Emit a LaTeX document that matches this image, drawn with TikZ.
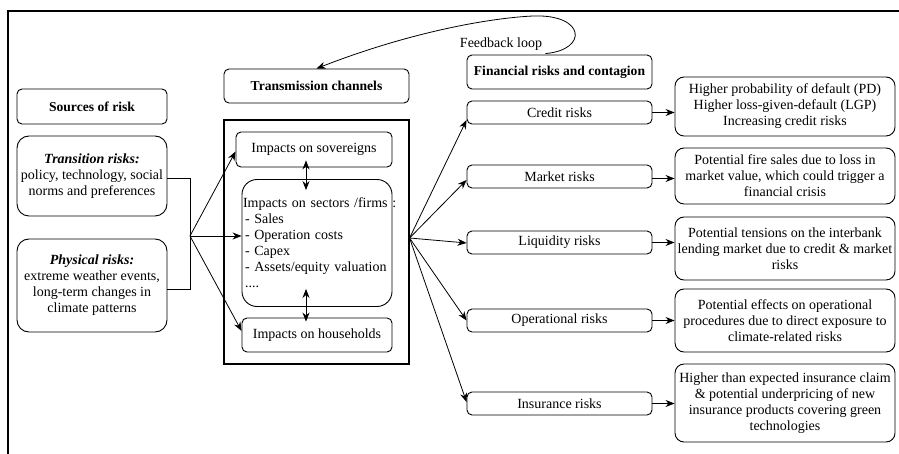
\documentclass[tikz,border=0pt]{standalone}
\usepackage{fontspec}
\setmainfont{Liberation Serif}
\usetikzlibrary{arrows.meta,calc}
\begin{document}
\begin{tikzpicture}[x=1pt,y=-1pt,
  every node/.style={font=\fontsize{14}{16}\selectfont},
  box/.style={draw,line width=0.9pt,rounded corners=5pt,inner sep=0pt,align=center},
  ttl/.style={box,font=\fontsize{13.6}{16}\selectfont\bfseries},
  arr/.style={line width=0.8pt,-{Stealth[length=9pt,width=7pt]}},
  darr/.style={line width=0.8pt,{Stealth[length=9pt,width=7pt]}-{Stealth[length=9pt,width=7pt]}},
  ln/.style={line width=0.9pt}]
\useasboundingbox (0,0) rectangle (899,454);
\draw[line width=1.1pt] (8,454) -- (8,11) -- (899,11);
% left column
\node[ttl,minimum width=150pt,minimum height=35pt] (src) at (92,106.5) {Sources of risk};
\node[box,rounded corners=12pt,minimum width=150pt,minimum height=80pt] (trans) at (92,176)
  {\textbf{\textit{Transition risks:}}\\policy, technology, social\\norms and preferences};
\node[box,rounded corners=12pt,minimum width=150pt,minimum height=93pt] (phys) at (92,285.5)
  {\textbf{\textit{Physical risks:}}\\extreme weather events,\\long-term changes in\\climate patterns};
% middle column
\node[ttl,minimum width=185pt,minimum height=34pt] (tc) at (316.5,86) {Transmission channels};
\node[draw,line width=1.1pt,minimum width=185pt,minimum height=244pt,inner sep=0pt] (big) at (316.5,242) {};
\node[box,minimum width=156pt,minimum height=35pt] (sov) at (314,149.5) {Impacts on sovereigns};
\node[box,rounded corners=15pt,minimum width=150pt,minimum height=127pt,align=left,text width=148pt,inner xsep=1pt] (sec) at (317,243)
  {\mbox{Impacts on sectors /firms :}\\
   \hspace*{2pt}- Sales\\
   \hspace*{2pt}- Operation costs\\
   \hspace*{2pt}- Capex\\
   \hspace*{2pt}- Assets/equity valuation\\
   \hspace*{2pt}....};
\node[box,minimum width=150pt,minimum height=34pt] (hh) at (317,335) {Impacts on households};
% financial risks column
\node[ttl,minimum width=185pt,minimum height=34pt] (frc) at (559.5,72) {Financial risks and contagion};
\node[box,minimum width=185pt,minimum height=23pt] (cr) at (559.5,112.5) {Credit risks};
\node[box,minimum width=185pt,minimum height=23pt] (mk) at (559.5,176.5) {Market risks};
\node[box,minimum width=185pt,minimum height=23pt] (lq) at (559.5,242.5) {Liquidity risks};
\node[box,minimum width=185pt,minimum height=23pt] (op) at (559.5,320.5) {Operational risks};
\node[box,minimum width=185pt,minimum height=23pt] (ins) at (559.5,403.5) {Insurance risks};
% right column
\node[box,rounded corners=9pt,minimum width=220pt,minimum height=59pt] (pd) at (785,106.5)
  {Higher probability of default (PD)\\Higher loss-given-default (LGP)\\Increasing credit risks};
\node[box,rounded corners=9pt,minimum width=220pt,minimum height=56pt] (fs) at (785,176)
  {Potential fire sales due to loss in\\market value, which could trigger a\\financial crisis};
\node[box,rounded corners=9pt,minimum width=220pt,minimum height=63pt] (ib) at (785,248.5)
  {Potential tensions on the interbank\\lending market due to credit \& market\\risks};
\node[box,rounded corners=9pt,minimum width=220pt,minimum height=63pt] (oe) at (785,320.5)
  {Potential effects on operational\\procedures due to direct exposure to\\climate-related risks};
\node[box,rounded corners=9pt,minimum width=220pt,minimum height=78pt] (ie) at (785,403)
  {Higher than expected insurance claim\\\& potential underpricing of new\\insurance products covering green\\technologies};
\node (fb) at (501,44) {Feedback loop};
% connectors
\coordinate (j) at (190,236);
\draw[ln] ([yshift=-2pt]trans.east) -| (j);
\draw[ln] ([yshift=-3.5pt]phys.east) -| (j);
\draw[arr] (j) -- ([yshift=-2pt]sov.west);
\draw[arr] (j) -- (j -| sec.west);
\draw[arr] (j) -- ([yshift=4pt]hh.west);
\draw[darr] ([xshift=-8pt,yshift=7pt]sov.south) -- ([xshift=-11pt,yshift=-11pt]sec.north);
\draw[darr] ([xshift=-11pt,yshift=18pt]sec.south) -- ([xshift=-11pt,yshift=-4pt]hh.north);
\coordinate (f) at ([yshift=4pt]big.east);
\foreach \t/\d in {cr/-7.5,mk/-3.5,lq/-0.5,op/0,ins/1.5}{
  \draw[arr] (f) -- ([yshift=\d pt]\t.west);
}
\draw[arr] (cr.east) -- (cr.east -| pd.west);
\draw[arr] ([yshift=-2pt]mk.east) -- ([yshift=-2pt]mk.east -| fs.west);
\draw[arr] (lq.east) -- (lq.east -| ib.west);
\draw[arr] (op.east) -- (op.east -| oe.west);
\draw[arr] (ins.east) -- (ins.east -| ie.west);
\draw[arr] ([xshift=-14pt,yshift=1pt]frc.north) .. controls (588,50) and (586,14) .. (533,16)
  .. controls (490,18) and (410,32) .. (tc.north);
\end{tikzpicture}
\end{document}
